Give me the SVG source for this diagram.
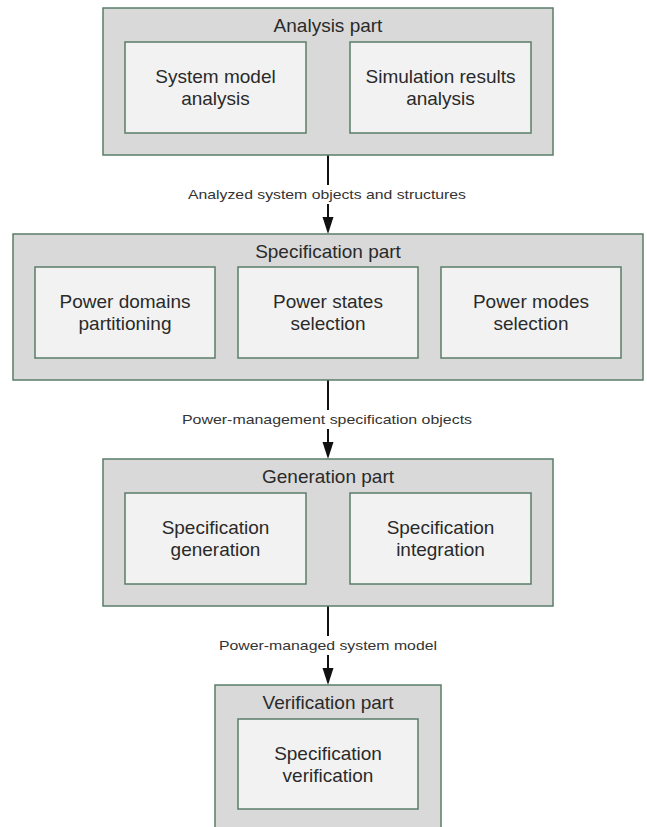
<svg xmlns="http://www.w3.org/2000/svg" width="647" height="827" viewBox="0 0 647 827">
<defs>
<style>
.outer{fill:#d9d9d9;stroke:#5a7c68;stroke-width:1.5}
.inner{fill:#f2f2f2;stroke:#5a7c68;stroke-width:1.5}
.t{font-family:"Liberation Sans",Arial,sans-serif;font-size:19px;fill:#2a2a2a;text-anchor:middle}
.lbl{font-family:"Liberation Sans",Arial,sans-serif;font-size:13.5px;fill:#333;text-anchor:middle}
.conn{stroke:#111;stroke-width:2;fill:none}
.head{fill:#111}
</style>
</defs>
<rect width="647" height="827" fill="#fff"/>
<g id="connectors">
<path class="conn" d="M328 155 V185 M328 204 V220"/>
<polygon class="head" points="322.5,217 333.5,217 328,234"/>
<path class="conn" d="M328 380 V410 M328 429 V445"/>
<polygon class="head" points="322.5,442 333.5,442 328,459"/>
<path class="conn" d="M328 606 V636 M328 655 V671"/>
<polygon class="head" points="322.5,668 333.5,668 328,685"/>
<text class="lbl" x="327" y="199" textLength="278" lengthAdjust="spacingAndGlyphs">Analyzed system objects and structures</text>
<text class="lbl" x="327" y="424" textLength="290" lengthAdjust="spacingAndGlyphs">Power-management specification objects</text>
<text class="lbl" x="328" y="650" textLength="218" lengthAdjust="spacingAndGlyphs">Power-managed system model</text>
</g>
<g id="analysis">
<rect class="outer" x="103" y="8" width="450" height="147"/>
<text class="t" x="328" y="32">Analysis part</text>
<g id="system-model-analysis">
<rect class="inner" x="125" y="42" width="181" height="91"/>
<text class="t" x="215.5" y="83">System model</text>
<text class="t" x="215.5" y="105">analysis</text>
</g>
<g id="simulation-results-analysis">
<rect class="inner" x="350" y="42" width="181" height="91"/>
<text class="t" x="440.5" y="83">Simulation results</text>
<text class="t" x="440.5" y="105">analysis</text>
</g>
</g>
<g id="specification">
<rect class="outer" x="13" y="234" width="630" height="146"/>
<text class="t" x="328" y="258">Specification part</text>
<g id="power-domains">
<rect class="inner" x="35" y="267" width="180" height="91"/>
<text class="t" x="125" y="308">Power domains</text>
<text class="t" x="125" y="330">partitioning</text>
</g>
<g id="power-states">
<rect class="inner" x="238" y="267" width="180" height="91"/>
<text class="t" x="328" y="308">Power states</text>
<text class="t" x="328" y="330">selection</text>
</g>
<g id="power-modes">
<rect class="inner" x="441" y="267" width="180" height="91"/>
<text class="t" x="531" y="308">Power modes</text>
<text class="t" x="531" y="330">selection</text>
</g>
</g>
<g id="generation">
<rect class="outer" x="103" y="459" width="450" height="147"/>
<text class="t" x="328" y="483">Generation part</text>
<g id="spec-generation">
<rect class="inner" x="125" y="493" width="181" height="91"/>
<text class="t" x="215.5" y="534">Specification</text>
<text class="t" x="215.5" y="556">generation</text>
</g>
<g id="spec-integration">
<rect class="inner" x="350" y="493" width="181" height="91"/>
<text class="t" x="440.5" y="534">Specification</text>
<text class="t" x="440.5" y="556">integration</text>
</g>
</g>
<g id="verification">
<rect class="outer" x="215" y="685" width="226" height="150"/>
<text class="t" x="328" y="709">Verification part</text>
<g id="spec-verification">
<rect class="inner" x="238" y="719" width="180" height="90"/>
<text class="t" x="328" y="760">Specification</text>
<text class="t" x="328" y="782">verification</text>
</g>
</g>
</svg>
